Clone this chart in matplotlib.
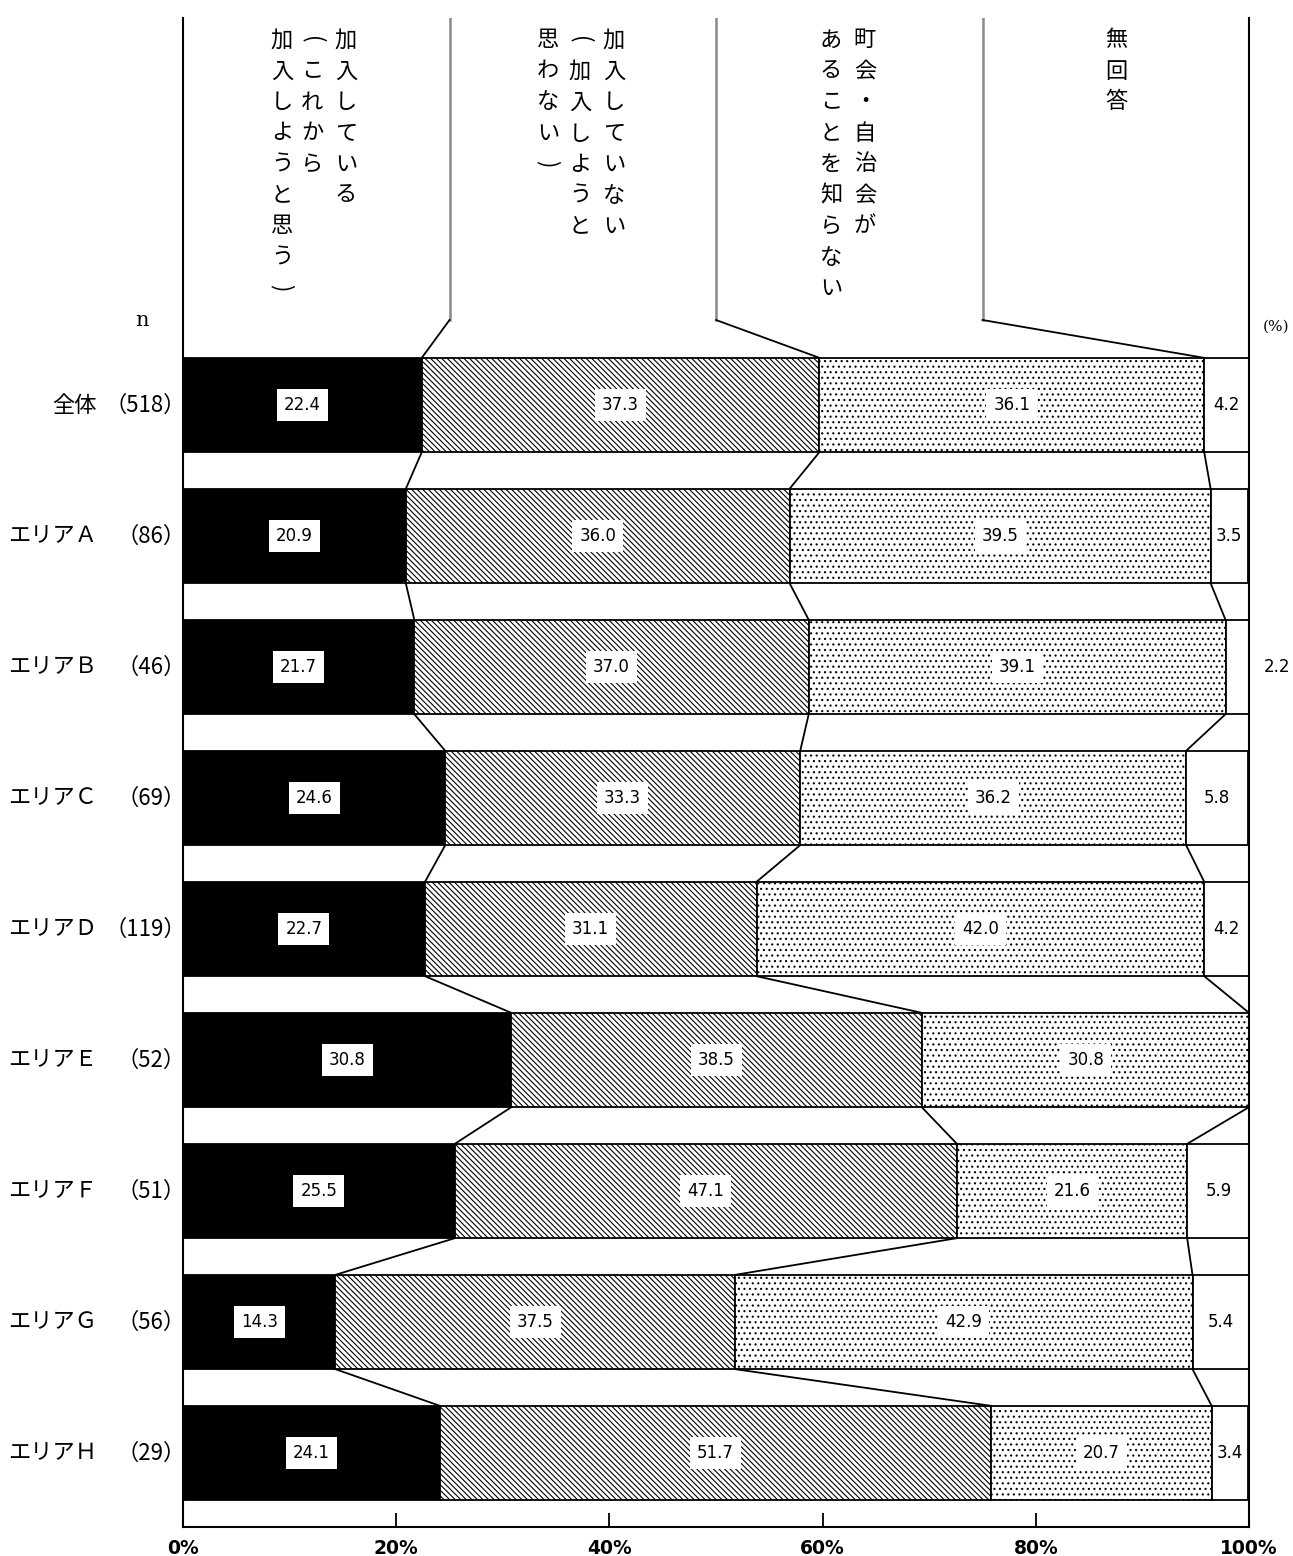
import matplotlib.pyplot as plt
import numpy as np

plt.rcParams['font.family'] = ['Noto Sans CJK JP', 'DejaVu Sans']
plt.rcParams['hatch.linewidth'] = 0.8

# ##### Data #####

names = ['全体', 'エリアＡ', 'エリアＢ', 'エリアＣ', 'エリアＤ',
         'エリアＥ', 'エリアＦ', 'エリアＧ', 'エリアＨ']
ns = [518, 86, 46, 69, 119, 52, 51, 56, 29]

joined = [22.4, 20.9, 21.7, 24.6, 22.7, 30.8, 25.5, 14.3, 24.1]
not_joined = [37.3, 36.0, 37.0, 33.3, 31.1, 38.5, 47.1, 37.5, 51.7]
unaware = [36.1, 39.5, 39.1, 36.2, 42.0, 30.8, 21.6, 42.9, 20.7]
no_answer = [4.2, 3.5, 2.2, 5.8, 4.2, 0.0, 5.9, 5.4, 3.4]

headers = [
    ['加入している', '(これから', '加入しようと思う)'],
    ['加入していない', '(加入しようと', '思わない)'],
    ['町会・自治会が', 'あることを知らない'],
    ['無回答'],
]

ticks = [0, 20, 40, 60, 80, 100]
tick_labels = ['0%', '20%', '40%', '60%', '80%', '100%']

# ##### Layout #####

W, H = 1293, 1556
fig = plt.figure(figsize=(W / 100, H / 100), dpi=100)
x0, x1, ytop, ybot = 183, 1249, 18, 1527
ax = fig.add_axes([x0 / W, 1 - ybot / H, (x1 - x0) / W, (ybot - ytop) / H])

row0, step = 405, 131
ax.set_xlim(0, 100)
ax.set_ylim((ybot - row0) / step, (ytop - row0) / step)


def px_x(p):
    return (p - x0) / (x1 - x0) * 100


def px_y(p):
    return (p - row0) / step


segs = [joined, not_joined, unaware, no_answer]
faces = ['black', 'white', 'white', 'white']
hatches = [None, '\\' * 6, '...', None]
h = 0.72
y = np.arange(len(names))

left = np.zeros(len(names))
for vals, fc, ht in zip(segs, faces, hatches):
    vals = np.array(vals)
    ax.barh(y, vals, left=left, height=h, color=fc, edgecolor='black',
            hatch=ht, linewidth=1.3, zorder=2)
    left = left + vals

cum = np.cumsum(np.array(segs), axis=0)

# value labels
left = np.zeros(len(names))
for k, vals in enumerate(segs):
    for i, v in enumerate(vals):
        if v <= 0:
            continue
        xc = left[i] + v / 2
        if k == 3 and v < 3:
            xc = px_x(1277)
        box = None if k == 3 else dict(facecolor='white', edgecolor='none',
                                       pad=5)
        ax.text(xc, i, f'{v:.1f}', ha='center', va='center', fontsize=12,
                family='DejaVu Sans', bbox=box, zorder=5, clip_on=False)
    left = left + np.array(vals)

# connector lines between bars
for i in range(len(names) - 1):
    for k in range(3):
        ax.plot([min(cum[k, i], 100), min(cum[k, i + 1], 100)],
                [i + h / 2, i + 1 - h / 2], color='black', lw=1.3, zorder=3,
                solid_capstyle='butt')

# header guide lines
top_line = px_y(ytop)
bend = px_y(320)
for k, xh in enumerate([25, 50, 75]):
    ax.plot([xh, xh], [top_line, bend], color='#8a8a8a', lw=1.8, zorder=1)
    ax.plot([xh, cum[k, 0]], [bend, -h / 2], color='black', lw=1.3,
            zorder=3)

# vertical header texts, one character per cell
col_x = [[346, 312, 282], [614, 580, 548], [865, 831], [1116]]
for cols, xs in zip(headers, col_x):
    for txt, xp in zip(cols, xs):
        for j, ch in enumerate(txt):
            yc = px_y(40 + 31 * j)
            if ch in '()':
                ax.text(px_x(xp), yc, ch, ha='center', va='center',
                        fontsize=16, rotation=-90, clip_on=False)
            else:
                ax.text(px_x(xp), yc, ch, ha='center', va='center',
                        fontsize=16, clip_on=False)

# row labels
for i, (nm, n) in enumerate(zip(names, ns)):
    ax.text(px_x(97), i, nm, ha='right', va='center', fontsize=16,
            clip_on=False)
    ax.text(px_x(186), i, f'（{n}）', ha='right', va='center', fontsize=16,
            clip_on=False)

ax.text(px_x(142), px_y(320), 'n', ha='center', va='center', fontsize=15,
        family='DejaVu Serif', clip_on=False)
ax.text(px_x(1276), px_y(327), '(%)', ha='center', va='center', fontsize=11,
        family='DejaVu Serif', clip_on=False)

# axes styling
ax.spines['top'].set_visible(False)
for s in ['left', 'right', 'bottom']:
    ax.spines[s].set_linewidth(1.5)
ax.set_yticks([])
ax.set_xticks(ticks)
ax.set_xticklabels(tick_labels, fontsize=13.5, fontweight='bold',
                   family='DejaVu Sans')
ax.tick_params(axis='x', direction='in', length=10, width=1.3, pad=9)

plt.savefig('out.png', dpi=100)
plt.close()
